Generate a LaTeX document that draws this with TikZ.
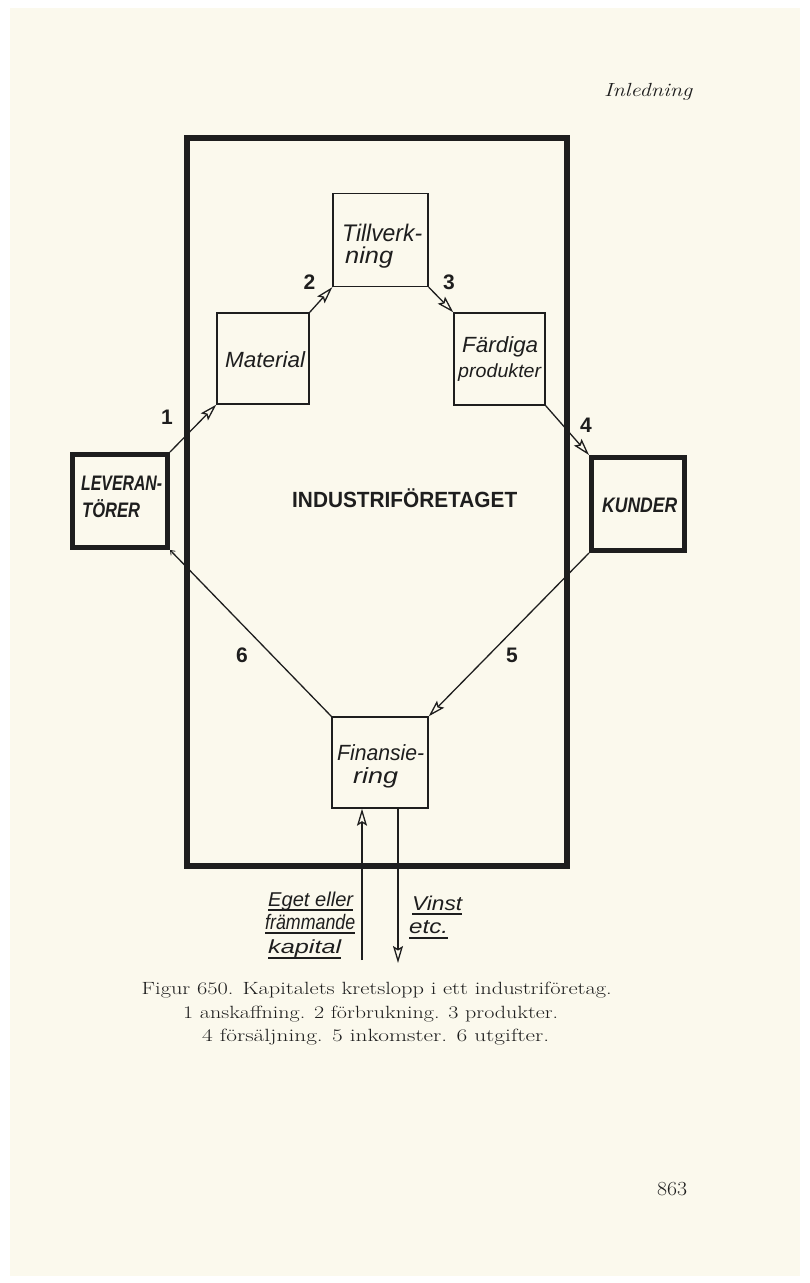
\documentclass[tikz,border=0pt]{standalone}
\usepackage{fontspec}
\newfontfamily\hand{Liberation Sans}
\usetikzlibrary{arrows.meta}
\definecolor{paper}{RGB}{251,249,237}
\definecolor{ink}{RGB}{30,30,30}
\newcommand\fitto[2]{\resizebox{#1}{\height}{#2}}
\tikzset{
  box/.style={draw=ink, line width=1.4pt, inner sep=0pt},
  heavybox/.style={draw=ink, line width=5pt, inner sep=0pt},
  boxtext/.style={text=ink, inner sep=0pt, anchor=base west, font=\hand\itshape\fontsize{22}{22}\selectfont},
  heavytext/.style={text=ink, inner sep=0pt, anchor=base west, font=\hand\bfseries\itshape\fontsize{21}{21}\selectfont},
  conn/.style={draw=ink, line width=1.3pt},
  arr/.style={conn, -{Stealth[open, length=17pt, width=10pt, inset=3pt, line width=1.3pt]}},
  smallarr/.style={conn, -{Straight Barb[length=4pt, width=6pt, line width=0.8pt]}},
  num/.style={text=ink, inner sep=0pt, font=\hand\bfseries\fontsize{21}{21}\selectfont},
  lab/.style={text=ink, inner sep=0pt, anchor=base west, font=\hand\itshape\fontsize{20}{20}\selectfont},
  uline/.style={draw=ink, line width=1.2pt},
  captext/.style={text=ink, inner sep=0pt, anchor=base west, font=\fontsize{17.7}{24}\selectfont}
}
\begin{document}
\begin{tikzpicture}[x=1pt,y=-1pt]
\useasboundingbox (0,0) rectangle (810,1283);
\fill[white] (0,0) rectangle (810,1283);
\fill[paper] (10,8) rectangle (800,1276);

% header
\node[captext, font=\itshape\fontsize{19}{20}\selectfont] (head) at (604,96.5) {\fitto{88pt}{Inledning}};

% frame
\node[draw=ink, line width=6pt, minimum width=380pt, minimum height=728pt, inner sep=0pt] (frame) at (377,502) {};
\node[heavytext, font=\hand\bfseries\fontsize{22}{22}\selectfont] (ind) at (292,507) {\fitto{225pt}{INDUSTRIFÖRETAGET}};

% boxes
\node[box, minimum width=95pt, minimum height=93pt] (till) at (380.5,240) {};
\node[box, minimum width=92pt, minimum height=91pt] (mat) at (263,358.5) {};
\node[box, minimum width=91pt, minimum height=92pt] (fard) at (499.5,359) {};
\node[box, minimum width=96pt, minimum height=91pt] (fin) at (380,762.5) {};
\node[heavybox, minimum width=95pt, minimum height=93pt] (lev) at (120,501) {};
\node[heavybox, minimum width=93pt, minimum height=93pt] (kund) at (638,504) {};

% box texts
\node[boxtext, font=\hand\itshape\fontsize{24}{24}\selectfont] (tilla) at (342,241) {\fitto{80pt}{Tillverk-}};
\node[boxtext, font=\hand\itshape\fontsize{23}{23}\selectfont] (tillb) at (345,263.5) {\fitto{48pt}{ning}};
\node[boxtext] (matt) at (225,367) {\fitto{80pt}{Material}};
\node[boxtext] (farda) at (462,352) {\fitto{76pt}{Färdiga}};
\node[boxtext, font=\hand\itshape\fontsize{19}{19}\selectfont] (fardb) at (458,377) {\fitto{83pt}{produkter}};
\node[boxtext] (fina) at (337,760) {\fitto{87pt}{Finansie-}};
\node[boxtext] (finb) at (353,783) {\fitto{45pt}{ring}};
\node[heavytext] (leva) at (81,490) {\fitto{81pt}{LEVERAN-}};
\node[heavytext] (levb) at (82,517) {\fitto{58pt}{TÖRER}};
\node[heavytext] (kundt) at (602,512) {\fitto{75pt}{KUNDER}};

% connectors
\draw[arr] (lev.north east) -- (mat.south west);
\draw[arr] (mat.north east) -- (till.south west);
\draw[arr] (till.south east) -- (fard.north west);
\draw[arr] (fard.south east) -- (kund.north west);
\draw[arr] (kund.south west) -- (fin.north east);
\draw[smallarr] (fin.north west) -- (lev.south east);

\coordinate (upstart) at (362,960);
\coordinate (downend) at (398,963);
\draw[arr] (upstart) -- (upstart |- fin.south);
\draw[arr] (downend |- fin.south) -- (downend);

% numbers
\node[num] (n1) at (167,417) {1};
\node[num] (n2) at (309.5,282) {2};
\node[num] (n3) at (449,282) {3};
\node[num] (n4) at (586,425) {4};
\node[num] (n5) at (512,655) {5};
\node[num] (n6) at (242,655) {6};

% bottom labels
\node[lab] (e1) at (268,906) {\fitto{85pt}{Eget eller}};
\node[lab, font=\hand\itshape\fontsize{21}{21}\selectfont] (e2) at (265,929) {\fitto{90pt}{främmande}};
\node[lab, font=\hand\itshape\fontsize{19}{19}\selectfont] (e3) at (268,953) {\fitto{73pt}{kapital}};
\draw[uline] ([yshift=-4pt]e1.base west) -- ([yshift=-4pt]e1.base east);
\draw[uline] ([yshift=-4pt]e2.base west) -- ([yshift=-4pt]e2.base east);
\draw[uline] ([yshift=-5pt]e3.base west) -- ([yshift=-5pt]e3.base east);
\node[lab] (v1) at (412,910) {\fitto{50pt}{Vinst}};
\node[lab] (v2) at (409,933) {\fitto{39pt}{etc.}};
\draw[uline] ([yshift=-4pt]v1.base west) -- ([yshift=-4pt]v1.base east);
\draw[uline] ([yshift=-5pt]v2.base west) -- ([yshift=-5pt]v2.base east);

% caption
\node[captext] (c1) at (141.5,994.5) {\fitto{470pt}{Figur 650. Kapitalets kretslopp i ett industriföretag.}};
\node[captext] (c2) at (183,1018.5) {\fitto{375pt}{1 anskaffning. 2 förbrukning. 3 produkter.}};
\node[captext] (c3) at (202,1041.5) {\fitto{347pt}{4 försäljning. 5 inkomster. 6 utgifter.}};

\node[captext, font=\fontsize{20}{20}\selectfont] (page) at (657,1195) {\fitto{30pt}{863}};
\end{tikzpicture}
\end{document}
